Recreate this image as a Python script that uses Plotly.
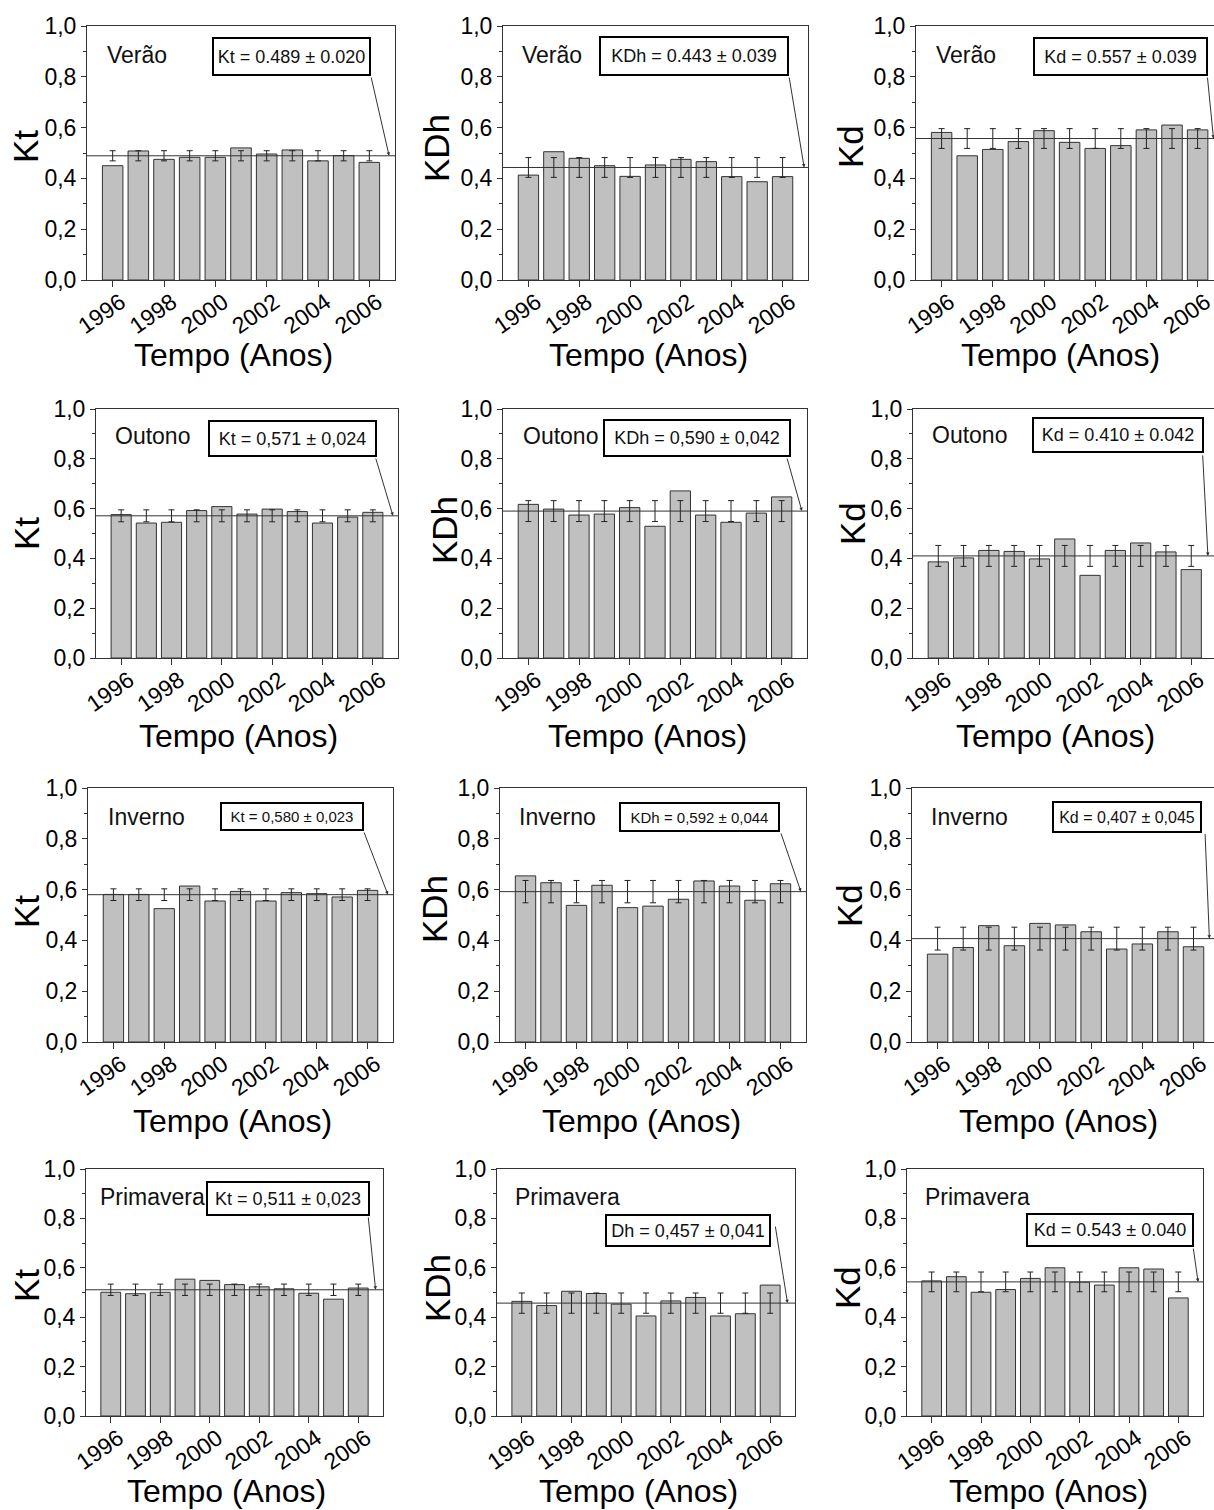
import plotly.graph_objects as go

years = list(range(1996, 2007))
seasons = ["Verão", "Outono", "Inverno", "Primavera"]
ylabels = ["Kt", "KDh", "Kd"]
xtitle = "Tempo (Anos)"

# Kt
kt_verao = [0.450, 0.508, 0.475, 0.483, 0.483, 0.520, 0.496, 0.512, 0.469, 0.490, 0.463]
kt_outono = [0.576, 0.542, 0.545, 0.592, 0.608, 0.578, 0.598, 0.588, 0.542, 0.566, 0.585]
kt_inverno = [0.581, 0.581, 0.525, 0.614, 0.555, 0.593, 0.555, 0.588, 0.584, 0.571, 0.597]
kt_primavera = [0.501, 0.495, 0.501, 0.554, 0.549, 0.532, 0.523, 0.515, 0.497, 0.473, 0.518]
# KDh
kdh_verao = [0.413, 0.505, 0.479, 0.450, 0.408, 0.453, 0.475, 0.466, 0.407, 0.387, 0.407]
kdh_outono = [0.617, 0.598, 0.574, 0.578, 0.604, 0.529, 0.671, 0.574, 0.545, 0.582, 0.647]
kdh_inverno = [0.654, 0.627, 0.538, 0.617, 0.529, 0.535, 0.562, 0.634, 0.614, 0.558, 0.623]
kdh_primavera = [0.464, 0.447, 0.505, 0.496, 0.453, 0.405, 0.466, 0.480, 0.405, 0.414, 0.530]
# Kd
kd_verao = [0.581, 0.489, 0.514, 0.545, 0.588, 0.542, 0.518, 0.529, 0.591, 0.610, 0.591]
kd_outono = [0.386, 0.402, 0.432, 0.428, 0.398, 0.478, 0.332, 0.432, 0.462, 0.426, 0.355]
kd_inverno = [0.346, 0.372, 0.458, 0.379, 0.467, 0.461, 0.434, 0.366, 0.386, 0.434, 0.375]
kd_primavera = [0.547, 0.564, 0.501, 0.512, 0.557, 0.600, 0.542, 0.530, 0.600, 0.595, 0.478]

kt_mean = [0.489, 0.571, 0.580, 0.511]
kt_std = [0.020, 0.024, 0.023, 0.023]
kdh_mean = [0.443, 0.590, 0.592, 0.457]
kdh_std = [0.039, 0.042, 0.044, 0.041]
kd_mean = [0.557, 0.410, 0.407, 0.543]
kd_std = [0.039, 0.042, 0.045, 0.040]

box_texts = [
    ["Kt = 0.489 ± 0.020", "KDh = 0.443 ± 0.039", "Kd = 0.557 ± 0.039"],
    ["Kt = 0,571 ± 0,024", "KDh = 0,590 ± 0,042", "Kd = 0.410 ± 0.042"],
    ["Kt = 0,580 ± 0,023", "KDh = 0,592 ± 0,044", "Kd = 0,407 ± 0,045"],
    ["Kt = 0,511 ± 0,023", "Dh = 0,457 ± 0,041", "Kd = 0.543 ± 0.040"],
]

values = [
    [kt_verao, kdh_verao, kd_verao],
    [kt_outono, kdh_outono, kd_outono],
    [kt_inverno, kdh_inverno, kd_inverno],
    [kt_primavera, kdh_primavera, kd_primavera],
]
means = [kt_mean, kdh_mean, kd_mean]
stds = [kt_std, kdh_std, kd_std]

# ---- layout geometry (page pixels) ----
W, H = 1214, 1510
# left, right, top, bottom, xmax, show right border
geom = [
    [(87, 395, 26, 280, 2007, True), (503, 808, 26, 280, 2007, True), (916, 1214, 26, 280, 2006.64, False)],
    [(96, 398, 409, 658, 2007, True), (503, 807, 409, 658, 2007, True), (913, 1214, 409, 658, 2006.9, False)],
    [(88, 393, 788, 1042, 2007, True), (500, 806, 788, 1042, 2007, True), (912, 1214, 788, 1042, 2006.8, False)],
    [(86, 383, 1169, 1416, 2007, True), (497, 795, 1169, 1416, 2007, True), (907, 1203, 1169, 1416, 2007, True)],
]
# axis-title centres (page px): y-title (x, y), x-title (x, y)
ytitle_pos = [
    [(26, 147), (436, 148), (851, 147)],
    [(26, 534), (444, 530), (852, 524)],
    [(26, 912), (434, 909), (849, 906)],
    [(26, 1286), (437, 1288), (847, 1287)],
]
xtitle_pos = [
    [(233, 355), (648, 355), (1060, 355)],
    [(238, 736), (647, 736), (1055, 736)],
    [(232, 1121), (642, 1121), (1058, 1121)],
    [(226, 1491), (638, 1491), (1048, 1491)],
]
# season label (x, y), box (cx, cy, w, h, font), arrow tail (x, y), arrow head x
ann = [
    [((1995.70, 0.886), (2002.97, 0.880, 159, 39, 18), (2006.06, 0.803), 2006.77),
     ((1995.67, 0.886), (2002.51, 0.880, 190, 40, 18), (2006.25, 0.803), 2006.85),
     ((1995.70, 0.886), (2002.99, 0.880, 175, 39, 18), (2006.38, 0.803), 2006.62)],
    [((1995.67, 0.893), (2002.81, 0.881, 169, 37, 18), (2006.10, 0.807), 2006.80),
     ((1995.70, 0.893), (2002.67, 0.883, 188, 38, 18), (2006.20, 0.807), 2006.80),
     ((1995.67, 0.896), (2003.10, 0.896, 172, 36, 18), (2006.45, 0.820), 2006.66)],
    [((1995.69, 0.886), (2003.02, 0.888, 144, 29, 15), (2005.84, 0.831), 2006.80),
     ((1995.67, 0.886), (2002.82, 0.887, 161, 30, 15), (2006.00, 0.827), 2006.80),
     ((1995.66, 0.886), (2003.40, 0.886, 150, 32, 16), (2006.45, 0.825), 2006.62)],
    [((1995.48, 0.887), (2003.16, 0.881, 164, 35, 18), (2006.40, 0.810), 2006.70),
     ((1995.65, 0.887), (2002.70, 0.751, 166, 33, 18), (2006.20, 0.773), 2006.70),
     ((1995.65, 0.887), (2003.24, 0.753, 168, 34, 18), (2006.60, 0.684), 2006.80)],
]


def px_x(p):
    return p / W


def px_y(p):
    return 1 - p / H


FONT = "Liberation Sans, Arial, sans-serif"
fig = go.Figure()
layout = dict(
    width=W, height=H, margin=dict(l=0, r=0, t=0, b=0),
    paper_bgcolor="white", plot_bgcolor="white", showlegend=False,
    separators=",.", font=dict(family=FONT, color="black"),
)
annotations = []
shapes = []

k = 0
for r in range(4):
    for c in range(3):
        k += 1
        xa = "x" if k == 1 else f"x{k}"
        ya = "y" if k == 1 else f"y{k}"
        left, right, top, bottom, xmax, rborder = geom[r][c]
        vals = values[r][c]
        m = means[c][r]
        s = stds[c][r]
        fig.add_trace(go.Bar(
            x=years, y=vals, xaxis=xa, yaxis=ya, width=0.8,
            marker=dict(color="#c0c0c0", line=dict(color="#333333", width=1)),
            hoverinfo="x+y",
        ))
        fig.add_trace(go.Scatter(
            x=years, y=[m] * len(years), xaxis=xa, yaxis=ya, mode="markers",
            marker=dict(size=1, color="rgba(0,0,0,0)"),
            error_y=dict(type="constant", value=s, color="#222", thickness=1, width=3),
            hoverinfo="skip",
        ))
        shapes.append(dict(type="line", xref=f"{xa} domain", yref=ya, x0=0, x1=1,
                           y0=m, y1=m, line=dict(color="#333", width=1), layer="above"))
        xkey = "xaxis" if k == 1 else f"xaxis{k}"
        ykey = "yaxis" if k == 1 else f"yaxis{k}"
        layout[xkey] = dict(
            domain=[px_x(left), min(1.0, px_x(right))], anchor=ya, range=[1995, xmax],
            tickmode="array", tickvals=years[::2], ticktext=[str(y) for y in years[::2]],
            tickangle=-35, ticks="outside", ticklen=6, tickcolor="#333",
            ticklabelshift=8, ticklabelstandoff=-7, ticklabeloverflow="allow",
            tickfont=dict(size=23, family=FONT), showline=True, linecolor="#333",
            linewidth=1, mirror=True, showgrid=False, zeroline=False,
            automargin=False, fixedrange=True,
        )
        layout[ykey] = dict(
            domain=[px_y(bottom), px_y(top)], anchor=xa, range=[0, 1],
            dtick=0.2, tickformat=".1f", ticks="outside", ticklen=5, tickcolor="#333",
            minor=dict(dtick=0.1, ticks="outside", ticklen=3, tickcolor="#333"),
            tickfont=dict(size=23, family=FONT), showline=True, linecolor="#333",
            linewidth=1, mirror=rborder, showgrid=False, zeroline=False,
            automargin=False, fixedrange=True,
        )
        yx, yy = ytitle_pos[r][c]
        annotations.append(dict(
            x=px_x(yx), y=px_y(yy), xref="paper", yref="paper", text=ylabels[c],
            textangle=-90, showarrow=False, xanchor="center", yanchor="middle",
            font=dict(size=35, family=FONT, color="black"),
        ))
        tx_, ty_ = xtitle_pos[r][c]
        annotations.append(dict(
            x=px_x(tx_), y=px_y(ty_), xref="paper", yref="paper", text=xtitle,
            showarrow=False, xanchor="center", yanchor="middle",
            font=dict(size=32, family=FONT, color="black"),
        ))
        (sx, sy), (bx, by, bw, bh, bf), (tx, ty), hx = ann[r][c]
        annotations.append(dict(
            x=sx, y=sy, xref=xa, yref=ya, text=seasons[r], showarrow=False,
            xanchor="left", yanchor="middle", font=dict(size=23, family=FONT, color="#111"),
        ))
        annotations.append(dict(
            x=bx, y=by, xref=xa, yref=ya, text=box_texts[r][c], showarrow=False,
            xanchor="center", yanchor="middle", width=bw - 8, height=bh - 8,
            borderpad=2, borderwidth=2, bordercolor="black", bgcolor="white",
            font=dict(size=bf, family=FONT, color="#111"),
        ))
        annotations.append(dict(
            x=hx, y=m, xref=xa, yref=ya, ax=tx, ay=ty, axref=xa, ayref=ya,
            text="", showarrow=True, arrowhead=2, arrowsize=0.7, arrowwidth=1,
            arrowcolor="#333", standoff=0, startstandoff=0,
        ))

layout["annotations"] = annotations
layout["shapes"] = shapes
fig.update_layout(**layout)
fig.write_html(
    "out.html",
    config={"displayModeBar": False},
    post_script="document.body.style.margin='0';document.body.style.overflow='hidden';",
)
